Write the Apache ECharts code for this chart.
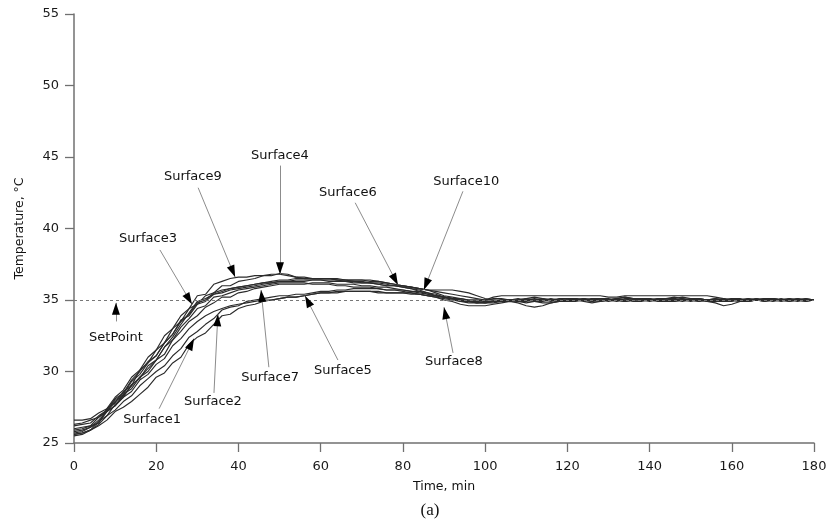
<!DOCTYPE html>
<html>
<head>
<meta charset="utf-8">
<script src="https://cdn.jsdelivr.net/npm/echarts@6/dist/echarts.min.js"></script>
<style>
  html, body { margin: 0; padding: 0; background: #ffffff; }
  #chart { width: 831px; height: 527px; }
</style>
</head>
<body>
<div id="chart"></div>
<script>
// Sampling times, min
const timeMin = [
  0, 2, 4, 6, 8, 10, 12, 14, 16, 18, 20, 22, 24, 26, 28, 30, 32, 34, 36, 38,
  40, 42, 44, 46, 48, 50, 52, 54, 56, 58, 60, 62, 64, 66, 68, 70, 72, 74, 76, 78,
  80, 82, 84, 86, 88, 90, 92, 94, 96, 98, 100, 102, 104, 106, 108, 110, 112, 114, 116, 118,
  120, 122, 124, 126, 128, 130, 132, 134, 136, 138, 140, 142, 144, 146, 148, 150, 152, 154, 156, 158,
  160, 162, 164, 166, 168, 170, 172, 174, 176, 178, 180
];

// Surface temperatures, °C
const surface1 = [
  25.6,25.7,25.9,26.2,26.6, 27.2,27.5,27.9,28.4,28.9, 29.6,29.9,30.6,31.0,31.9, 32.4,32.7,33.3,33.9,34.0,
  34.4,34.6,34.7,34.9,35.0, 35.1,35.2,35.2,35.3,35.4, 35.5,35.5,35.6,35.6,35.6, 35.6,35.6,35.5,35.5,35.5,
  35.5,35.4,35.4,35.3,35.2, 35.1,35.0,34.9,34.9,34.8, 34.8,
  34.9,34.9,35.0,34.9,34.8, 34.9,35.0,35.0,34.9,35.0, 35.1,35.0,34.9,35.0,35.0, 35.1,35.0,34.9,34.9,35.0,
  35.1,35.1,35.0,34.9,35.0, 35.0,34.9,34.9,35.0,35.1, 35.0,34.9,35.0,35.0,35.1, 35.0,34.9,35.0,35.0,35.0
];
const surface2 = [
  25.5,25.6,25.9,26.3,26.9, 27.3,27.9,28.3,29.0,29.5, 30.0,30.4,31.1,31.6,32.4, 32.8,33.3,33.7,34.3,34.5,
  34.6,34.9,35.0,35.1,35.2, 35.3,35.3,35.4,35.4,35.5, 35.6,35.6,35.7,35.7,35.8, 35.8,35.8,35.8,35.7,35.7,
  35.7,35.6,35.5,35.4,35.3, 35.2,35.1,35.0,34.9,34.9, 35.0,
  35.2,35.3,35.3,35.3,35.3, 35.3,35.3,35.3,35.3,35.3, 35.3,35.3,35.3,35.3,35.2, 35.2,35.3,35.3,35.3,35.3,
  35.3,35.3,35.3,35.3,35.3, 35.3,35.3,35.2,35.1,35.0, 35.0,35.1,35.0,35.0,35.1, 35.0,35.0,35.0,35.1,35.0
];
const surface3 = [
  25.8,25.9,26.1,26.6,27.2, 27.9,28.3,29.0,29.6,30.2, 30.8,31.7,32.4,33.3,34.1, 34.9,35.1,35.4,35.6,35.8,
  35.9,36.0,36.1,36.2,36.2, 36.3,36.3,36.4,36.4,36.4, 36.4,36.3,36.3,36.3,36.2, 36.2,36.2,36.1,36.0,36.0,
  35.9,35.8,35.6,35.5,35.4, 35.2,35.1,35.0,34.9,34.8, 34.8,
  34.9,35.0,35.0,35.1,35.0, 34.9,34.9,35.0,35.1,35.1, 35.0,34.9,34.8,34.9,35.0, 35.0,35.1,35.1,35.0,34.9,
  35.0,35.1,35.2,35.1,35.0, 34.9,35.0,35.0,35.1,35.0, 34.9,34.9,35.0,35.1,35.0, 35.0,35.1,35.0,34.9,35.0
];
const surface4 = [
  25.7,25.8,26.1,26.4,27.4, 27.8,28.6,29.0,30.1,30.6, 31.5,32.0,33.0,33.5,34.4, 34.7,35.3,35.5,36.0,36.0,
  36.3,36.4,36.5,36.7,36.7, 36.85,36.8,36.6,36.5,36.5, 36.5,36.5,36.4,36.4,36.3, 36.2,36.2,36.1,36.0,36.0,
  35.9,35.8,35.7,35.5,35.3, 35.2,35.1,34.9,34.8,34.8, 34.9,
  34.9,35.0,35.0,34.9,35.0, 35.1,35.0,35.0,34.9,34.9, 35.0,35.1,35.0,35.0,34.9, 35.0,35.0,35.1,35.0,35.0,
  34.9,34.9,35.0,35.0,35.1, 35.1,35.0,34.9,35.0,35.0, 35.0,35.1,35.0,34.9,35.0, 35.1,35.0,35.0,34.9,35.0
];
const surface5 = [
  26.3,26.4,26.6,26.8,27.2, 27.6,28.2,28.6,29.4,29.8, 30.5,30.9,31.8,32.3,33.0, 33.5,33.9,34.2,34.4,34.6,
  34.7,34.8,34.9,35.0,35.0, 35.1,35.2,35.2,35.3,35.4, 35.5,35.5,35.5,35.6,35.6, 35.6,35.6,35.6,35.5,35.5,
  35.5,35.5,35.4,35.3,35.3, 35.2,35.1,35.1,35.0,35.0, 34.9,
  34.9,35.0,35.0,34.9,34.9, 35.0,35.0,35.1,35.0,34.9, 35.0,35.0,35.1,35.0,35.0, 34.9,35.0,35.0,35.1,35.0,
  35.0,35.0,34.9,35.0,35.0, 35.0,34.9,34.8,34.6,34.7, 34.9,35.0,35.0,35.1,35.0, 35.0,34.9,35.0,35.0,35.0
];
const surface6 = [
  26.0,26.1,26.2,26.8,27.3, 28.1,28.5,29.4,30.0,30.7, 31.1,32.0,32.6,33.5,34.0, 34.8,35.0,35.5,35.7,35.8,
  35.9,36.0,36.1,36.2,36.3, 36.4,36.4,36.5,36.5,36.5, 36.5,36.5,36.5,36.4,36.4, 36.4,36.4,36.3,36.2,36.1,
  36.0,35.9,35.8,35.7,35.6, 35.5,35.4,35.3,35.2,35.1, 35.0,
  35.0,34.9,34.9,35.0,35.1, 35.0,35.0,34.9,35.0,35.0, 35.1,35.0,35.0,35.1,35.1, 35.0,34.9,35.0,35.0,35.1,
  35.0,35.0,35.0,35.1,35.0, 34.9,35.0,35.0,35.0,35.1, 35.1,35.0,35.0,34.9,35.0, 35.0,35.1,35.0,35.0,35.0
];
const surface7 = [
  25.9,26.0,26.2,26.4,27.2, 27.6,28.4,28.8,29.6,30.0, 30.8,31.2,32.2,32.8,33.5, 33.9,34.5,34.8,35.2,35.2,
  35.5,35.6,35.8,35.9,36.0, 36.1,36.1,36.1,36.1,36.2, 36.2,36.2,36.1,36.1,36.1, 36.0,36.0,35.9,35.9,35.8,
  35.7,35.6,35.6,35.4,35.3, 35.2,35.1,35.0,34.9,34.9, 34.8,
  34.8,34.9,35.0,35.0,35.0, 34.9,34.8,34.8,34.9,35.0, 35.0,35.1,35.0,34.9,35.0, 35.1,35.2,35.1,35.0,35.0,
  35.0,34.9,34.9,35.0,35.0, 35.1,35.0,35.0,34.9,34.9, 35.0,35.0,35.1,35.0,35.0, 34.9,35.0,35.1,35.0,35.0
];
const surface8 = [
  25.6,25.7,25.9,26.5,26.9, 27.7,28.2,29.1,29.5,30.4, 30.8,31.7,32.2,33.1,33.7, 34.4,34.6,35.2,35.3,35.5,
  35.7,35.8,35.9,36.0,36.1, 36.2,36.2,36.2,36.2,36.1, 36.1,36.1,36.0,36.0,35.9, 35.9,35.9,35.8,35.7,35.7,
  35.6,35.5,35.4,35.3,35.2, 35.0,34.9,34.7,34.6,34.6, 34.6,
  34.7,34.8,34.9,34.8,34.6, 34.5,34.6,34.8,34.9,35.0, 35.0,35.1,35.0,34.9,35.0, 35.0,34.9,35.0,35.1,35.1,
  35.0,34.9,35.0,35.0,35.0, 35.1,35.0,34.9,34.9,35.0, 35.0,35.0,35.1,35.0,34.9, 35.0,35.0,35.0,35.1,35.0
];
const surface9 = [
  26.6,26.6,26.7,27.1,27.4, 28.2,28.7,29.6,30.1,31.0, 31.5,32.5,33.0,33.9,34.4, 35.3,35.4,36.1,36.3,36.5,
  36.6,36.6,36.7,36.7,36.8, 36.8,36.7,36.6,36.6,36.5, 36.5,36.5,36.4,36.4,36.4, 36.4,36.3,36.3,36.2,36.1,
  36.0,35.9,35.8,35.7,35.5, 35.3,35.2,35.1,35.0,35.0, 35.0,
  35.1,35.1,35.0,35.0,35.1, 35.2,35.1,35.0,35.0,35.1, 35.1,35.0,34.9,35.0,35.0, 35.1,35.2,35.1,35.1,35.0,
  35.0,35.1,35.1,35.2,35.1, 35.0,35.0,35.1,35.0,35.0, 34.9,35.0,35.0,35.1,35.1, 35.0,35.0,34.9,35.0,35.0
];
const surface10 = [
  26.2,26.3,26.4,26.9,27.3, 28.0,28.4,29.3,29.8,30.6, 31.1,32.0,32.6,33.6,33.9, 34.7,34.9,35.4,35.5,35.7,
  35.8,35.9,36.0,36.1,36.2, 36.3,36.3,36.3,36.3,36.4, 36.4,36.4,36.4,36.3,36.3, 36.3,36.2,36.2,36.1,36.0,
  36.0,35.9,35.8,35.7,35.7, 35.7,35.7,35.6,35.5,35.3, 35.1,
  35.0,35.0,34.9,35.0,35.0, 35.0,35.1,35.0,35.0,34.9, 34.9,35.0,35.1,35.1,35.0, 35.0,34.9,35.0,35.0,35.0,
  35.1,35.1,35.0,35.0,34.9, 35.0,35.0,35.1,35.0,35.0, 35.0,34.9,35.0,35.0,35.1, 35.0,35.0,35.1,35.0,35.0
];

const surfaceNames = ['Surface1', 'Surface2', 'Surface3', 'Surface4', 'Surface5',
                      'Surface6', 'Surface7', 'Surface8', 'Surface9', 'Surface10'];
const surfaceValues = [surface1, surface2, surface3, surface4, surface5,
                       surface6, surface7, surface8, surface9, surface10];

const setPoint = 35;
const setPointLabel = 'SetPoint';

// Callouts in data units (min, °C): text anchor, leader start, arrow point
const calloutNames = ['Surface1', 'Surface2', 'Surface3', 'Surface4', 'Surface5',
                      'Surface6', 'Surface7', 'Surface8', 'Surface9', 'Surface10', setPointLabel];
const calloutText = [[19.0, 26.63], [33.8, 27.9], [18.0, 39.3], [50.1, 45.1], [65.4, 30.07],
                     [66.6, 42.5], [47.7, 29.6], [92.4, 30.7], [28.9, 43.6], [95.4, 43.3], [10.2, 32.4]];
const calloutFrom = [[20.7, 27.4], [34.05, 28.5], [20.9, 38.5], [50.1, 44.4], [64.2, 30.8],
                     [68.4, 41.8], [47.4, 30.3], [92.2, 31.3], [30.2, 42.85], [94.6, 42.6], [10.2, 33.5]];
const calloutTip = [[29.2, 32.3], [35.0, 34.0], [28.7, 34.7], [50.1, 36.8], [56.2, 35.3],
                    [78.8, 36.05], [45.5, 35.7], [90.0, 34.5], [39.2, 36.6], [85.1, 35.7], [10.2, 34.8]];

const FONT = 'DejaVu Sans';
const AXIS_GREY = '#707070';
const TEXT = '#111111';
const HEAD_LEN = 12;   // arrowhead length, px
const HEAD_W = 8;      // arrowhead width, px

const chart = echarts.init(document.getElementById('chart'), null, { renderer: 'canvas' });

const curveSeries = surfaceNames.map((name, k) => ({
  name: name,
  type: 'line',
  data: timeMin.map((t, i) => [t, surfaceValues[k][i]]),
  showSymbol: false,
  symbol: 'none',
  silent: true,
  z: 3,
  lineStyle: { color: '#2b2b2b', width: 1.15 }
}));

const baseAxis = {
  nameLocation: 'middle',
  nameTextStyle: { color: TEXT, fontSize: 12.5, fontFamily: FONT },
  axisLine: { show: true, onZero: false, lineStyle: { color: AXIS_GREY, width: 1.5 } },
  axisTick: { show: true, inside: false, length: 9, lineStyle: { color: AXIS_GREY, width: 1.3 } },
  splitLine: { show: false }
};

chart.setOption({
  animation: false,
  backgroundColor: '#ffffff',
  grid: { left: 74, right: 17, top: 14, bottom: 84, containLabel: false },
  xAxis: Object.assign({}, baseAxis, {
    type: 'value', min: 0, max: 180, interval: 20,
    name: 'Time, min', nameGap: 37,
    axisLabel: { color: '#1a1a1a', fontSize: 13, fontFamily: FONT, margin: 17 }
  }),
  yAxis: Object.assign({}, baseAxis, {
    type: 'value', min: 25, max: 55, interval: 5,
    name: 'Temperature, °C', nameGap: 48, nameRotate: 90,
    axisLabel: { color: '#1a1a1a', fontSize: 13, fontFamily: FONT, margin: 15 }
  }),
  graphic: [{
    type: 'text',
    x: 430,
    y: 511,
    style: {
      text: '(a)',
      font: '17px "Liberation Serif"',
      fill: '#111111',
      textAlign: 'center',
      textVerticalAlign: 'middle'
    }
  }],
  series: curveSeries
});

// The arrowhead symbol is centred on its end point, so pull that point back
// along the leader by half a head length; the point then lands on the curve.
function headSegment(from, tip) {
  const p0 = chart.convertToPixel({ gridIndex: 0 }, from);
  const p1 = chart.convertToPixel({ gridIndex: 0 }, tip);
  const dx = p1[0] - p0[0], dy = p1[1] - p0[1];
  const len = Math.hypot(dx, dy);
  const ux = dx / len, uy = dy / len;
  const c = [p1[0] - ux * HEAD_LEN / 2, p1[1] - uy * HEAD_LEN / 2];
  const s = [c[0] - ux * 3, c[1] - uy * 3];
  return [chart.convertFromPixel({ gridIndex: 0 }, s), chart.convertFromPixel({ gridIndex: 0 }, c)];
}

const setPointSeries = {
  name: 'setpoint',
  type: 'line',
  data: [],
  silent: true,
  z: 2,
  markLine: {
    silent: true,
    symbol: 'none',
    label: { show: false },
    lineStyle: { color: '#777777', width: 1, type: [3, 3] },
    data: [{ yAxis: setPoint }]
  }
};

const leaderSeries = {
  name: 'leaders',
  type: 'scatter',
  symbolSize: 0,
  silent: true,
  z: 5,
  itemStyle: { opacity: 1 },
  data: calloutNames.map((n, i) => ({ name: n, value: calloutText[i] })),
  label: {
    show: true,
    position: 'inside',
    formatter: '{b}',
    color: TEXT,
    fontSize: 13,
    fontFamily: FONT,
    textBorderWidth: 0
  },
  markLine: {
    silent: true,
    symbol: 'none',
    label: { show: false },
    lineStyle: { color: '#8c8c8c', width: 1, type: 'solid' },
    data: calloutNames.map((n, i) => [{ coord: calloutFrom[i] }, { coord: calloutTip[i] }])
  }
};

const headSeries = {
  name: 'arrowheads',
  type: 'line',
  data: [],
  silent: true,
  z: 6,
  markLine: {
    silent: true,
    symbol: ['none', 'triangle'],
    symbolSize: [HEAD_W, HEAD_LEN],
    label: { show: false },
    lineStyle: { color: '#000000', width: 1, type: 'solid' },
    data: calloutNames.map((n, i) => {
      const seg = headSegment(calloutFrom[i], calloutTip[i]);
      return [{ coord: seg[0] }, { coord: seg[1] }];
    })
  }
};

chart.setOption({ series: curveSeries.concat([setPointSeries, leaderSeries, headSeries]) });
</script>
</body>
</html>
